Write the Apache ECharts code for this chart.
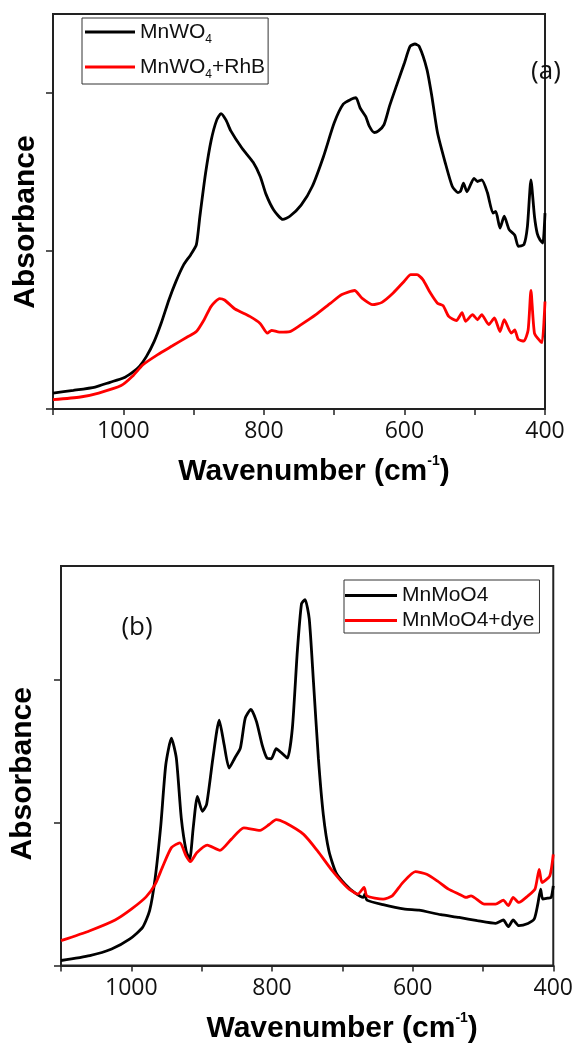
<!DOCTYPE html>
<html>
<head>
<meta charset="utf-8">
<script src="https://cdn.jsdelivr.net/npm/echarts@6/dist/echarts.min.js"></script>
<style>
  html, body { margin: 0; padding: 0; background: #fff; }
  #chart { width: 576px; height: 1047px; }
</style>
</head>
<body>
<div id="chart"></div>
<script>
// panel (a): MnWO4 before / after RhB
const aBlackWn = [1100,1071,1040,1019,1000,987,977,967,956,946,935,925,914,904,896,891,883,875,867,861,854,847,831,815,805,797,786,773,763,747,731,715,700,687,676,669,663,655,650,643,637,629,621,611,600,592,585,579,568,561,553,542,532,524,520,516,511,501,496,490,482,474,470,464,458,451,443,438,430,425,420,415,411,407,403,400]
const aBlackAbs = [0.101,0.118,0.139,0.169,0.196,0.232,0.27,0.333,0.428,0.544,0.692,0.808,0.914,0.977,1.04,1.22,1.49,1.70,1.83,1.87,1.83,1.76,1.65,1.56,1.47,1.36,1.26,1.20,1.22,1.29,1.41,1.60,1.81,1.93,1.96,1.97,1.905,1.85,1.79,1.75,1.76,1.80,1.92,2.05,2.19,2.295,2.31,2.295,2.15,1.98,1.75,1.56,1.41,1.37,1.38,1.43,1.375,1.46,1.44,1.45,1.37,1.24,1.25,1.145,1.22,1.135,1.10,1.03,1.04,1.156,1.45,1.22,1.11,1.07,1.05,1.24]
const aRedWn = [1100,1061,1035,1003,987,972,951,930,909,896,885,875,863,856,841,820,805,795,789,778,763,747,726,705,689,671,660,645,632,616,600,591,582,574,563,553,545,537,526,518,513,503,496,490,480,472,464,458,448,443,438,430,424,420,415,407,404,400]
const aRedAbs = [0.059,0.076,0.101,0.148,0.207,0.28,0.344,0.40,0.456,0.49,0.565,0.65,0.698,0.69,0.633,0.586,0.54,0.48,0.498,0.487,0.49,0.534,0.597,0.67,0.724,0.75,0.70,0.66,0.675,0.734,0.81,0.85,0.85,0.82,0.734,0.67,0.654,0.586,0.56,0.61,0.555,0.597,0.565,0.597,0.534,0.576,0.49,0.565,0.48,0.50,0.44,0.43,0.50,0.75,0.48,0.43,0.42,0.68]

// panel (b): MnMoO4 before / after dye
const bBlackWn = [1100,1059,1028,1002,984,974,966,958,951,943,936,929,922,917,912,906,899,893,884,875,868,861,853,845,838,830,822,814,807,801,794,786,778,771,764,758,753,747,741,734,727,719,709,696,683,670,668,665,642,611,591,560,534,508,482,471,464,457,449,436,427,422,418,415,408,403,400]
const bBlackAbs = [0.035,0.07,0.116,0.186,0.267,0.384,0.616,0.988,1.407,1.593,1.453,1.035,0.802,0.744,0.965,1.186,1.081,1.128,1.453,1.72,1.547,1.384,1.453,1.523,1.733,1.795,1.709,1.547,1.453,1.449,1.519,1.488,1.453,1.663,2.198,2.535,2.565,2.43,1.988,1.453,1.058,0.802,0.651,0.57,0.512,0.477,0.50,0.458,0.426,0.395,0.388,0.356,0.337,0.314,0.295,0.319,0.272,0.319,0.279,0.295,0.326,0.43,0.535,0.465,0.472,0.477,0.558]
const bRedWn = [1100,1059,1023,1000,979,966,956,943,931,922,916,907,892,874,858,840,817,804,794,781,755,735,714,693,678,669,665,642,629,614,596,580,565,549,534,524,517,498,482,471,464,457,449,436,426,420,416,405,400]
const bRedAbs = [0.174,0.244,0.319,0.395,0.481,0.57,0.686,0.826,0.86,0.767,0.728,0.79,0.844,0.807,0.884,0.965,0.947,0.988,1.023,1.0,0.919,0.802,0.663,0.547,0.50,0.547,0.488,0.465,0.488,0.581,0.658,0.64,0.593,0.535,0.50,0.477,0.488,0.43,0.43,0.458,0.419,0.477,0.442,0.488,0.535,0.674,0.581,0.628,0.779]

const xLabels = [1000, 800, 600, 400]
const yTicks = [0, 1, 2]
const namesA = ['MnWO4', 'MnWO4+RhB']
const namesB = ['MnMoO4', 'MnMoO4+dye']

const pairs = (xs, ys) => xs.map((x, i) => [x, ys[i]])

const chart = echarts.init(document.getElementById('chart'))

const axisColor = '#222'
const xAxisBase = (grid) => ({
  type: 'value',
  gridIndex: grid,
  min: 400,
  max: 1100,
  interval: 100,
  inverse: true,
  axisLine: { show: true, onZero: false, lineStyle: { color: axisColor, width: 2 } },
  axisTick: { show: true, length: 6, lineStyle: { color: axisColor, width: 1.5 } },
  axisLabel: {
    margin: 11,
    fontSize: 23,
    fontFamily: 'Open Sans',
    color: '#111',
    showMinLabel: true,
    formatter: v => xLabels.includes(v) ? String(v) : ''
  },
  splitLine: { show: false },
  name: '{m|Wavenumber (cm}{s|-1}{m|)}',
  nameLocation: 'middle',
  nameGap: 48,
  nameTextStyle: {
    padding: grid === 0 ? [0, 0, 0, 30] : [0, 0, 0, 70],
    rich: {
      m: { fontSize: 30, fontWeight: 'bold', fontFamily: 'Liberation Sans', color: '#000', lineHeight: 30 },
      s: { fontSize: 14, fontWeight: 'bold', fontFamily: 'Liberation Sans', color: '#000', lineHeight: 14, padding: [0, 0, 21, 0] }
    }
  }
})

const yAxisBase = (grid, max) => ({
  type: 'value',
  gridIndex: grid,
  min: 0,
  max: max,
  interval: 1,
  axisLine: { show: true, lineStyle: { color: axisColor, width: 2 } },
  axisTick: { show: true, length: 7, customValues: yTicks, lineStyle: { color: axisColor, width: 1.5 } },
  axisLabel: { show: false },
  splitLine: { show: false },
  name: 'Absorbance',
  nameLocation: 'middle',
  nameGap: grid === 0 ? 12 : 23,
  nameTextStyle: {
    fontSize: 30,
    fontWeight: 'bold',
    fontFamily: 'Liberation Sans',
    color: '#000',
    padding: grid === 0 ? [0, 21, 0, 0] : [0, 16, 0, 0]
  }
})

const lineSeries = (name, data, color, idx) => ({
  name: name,
  type: 'line',
  xAxisIndex: idx,
  yAxisIndex: idx,
  data: data,
  showSymbol: false,
  symbol: 'none',
  smooth: 0.2,
  lineStyle: { color: color, width: 2.8 },
  itemStyle: { color: color },
  animation: false
})

const option = {
  backgroundColor: '#fff',
  animation: false,
  grid: [
    { left: 53, right: 31, top: 14, height: 395, show: true, borderColor: axisColor, borderWidth: 2 },
    { left: 55, right: 21, top: 566, height: 402, show: true, borderColor: axisColor, borderWidth: 2 }
  ],
  xAxis: [xAxisBase(0), xAxisBase(1)],
  yAxis: [yAxisBase(0, 2.5), yAxisBase(1, 2.8)],
  legend: [
    {
      data: namesA,
      orient: 'vertical',
      left: 82,
      top: 18,
      padding: [0, 3, 3, 3],
      itemGap: 7,
      itemWidth: 50,
      itemHeight: 3,
      icon: 'rect',
      borderColor: '#333',
      borderWidth: 1,
      selectedMode: false,
      formatter: n => n.replace('O4', 'O{s|4}'),
      textStyle: {
        fontSize: 21,
        fontFamily: 'Liberation Sans',
        color: '#111',
        rich: { s: { fontSize: 12, fontFamily: 'Liberation Sans', color: '#111', lineHeight: 12, padding: [16, 0, 0, 0] } }
      }
    },
    {
      data: namesB,
      orient: 'vertical',
      left: 344,
      top: 580,
      padding: [5, 5, 2, 1],
      itemGap: 4,
      itemWidth: 52,
      itemHeight: 3,
      icon: 'rect',
      borderColor: '#333',
      borderWidth: 1,
      selectedMode: false,
      textStyle: { fontSize: 21, fontFamily: 'Liberation Sans', color: '#111', lineHeight: 21 }
    }
  ],
  graphic: [
    { type: 'text', x: 546, y: 72, style: { text: '(a)', font: '26px "Open Sans"', fill: '#111', textAlign: 'center', textVerticalAlign: 'middle' } },
    { type: 'text', x: 137, y: 628, style: { text: '(b)', font: '26px "Open Sans"', fill: '#111', textAlign: 'center', textVerticalAlign: 'middle' } }
  ],
  series: [
    lineSeries(namesA[0], pairs(aBlackWn, aBlackAbs), '#000000', 0),
    lineSeries(namesA[1], pairs(aRedWn, aRedAbs), '#ff0000', 0),
    lineSeries(namesB[0], pairs(bBlackWn, bBlackAbs), '#000000', 1),
    lineSeries(namesB[1], pairs(bRedWn, bRedAbs), '#ff0000', 1)
  ]
}

chart.setOption(option)
</script>
</body>
</html>
